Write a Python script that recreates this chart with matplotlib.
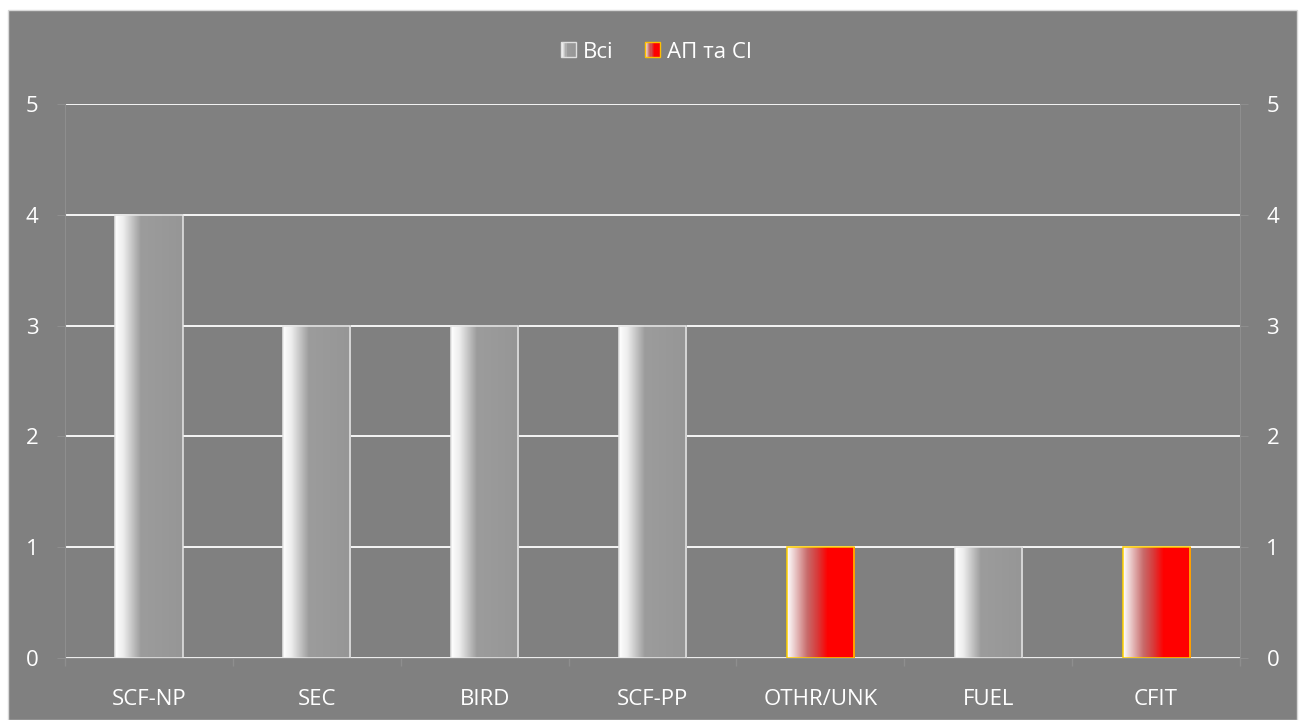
import numpy as np
import matplotlib.pyplot as plt
from matplotlib.colors import LinearSegmentedColormap
from matplotlib.patches import Rectangle
from matplotlib.legend_handler import HandlerBase

# event categories and counts
categories = ["SCF-NP", "SEC", "BIRD", "SCF-PP", "OTHR/UNK", "FUEL", "CFIT"]
counts = [4, 3, 3, 3, 1, 1, 1]
# which group each bar belongs to: 0 = all, 1 = accidents & serious incidents
group = [0, 0, 0, 0, 1, 0, 1]
legend_labels = ["Всі", "АП та СІ"]

bg = "#808080"
grey_cmap = LinearSegmentedColormap.from_list(
    "grey_fade", [(0, "#ffffff"), (0.12, "#eeeeee"), (0.38, "#9c9c9c"), (1, "#969696")])
red_cmap = LinearSegmentedColormap.from_list(
    "red_fade", [(0, "#ffffff"), (0.1, "#ecd0d0"), (0.3, "#c86a6a"), (0.45, "#d83a3a"),
                 (0.6, "#ff0000"), (1, "#ff0000")])
cmaps = [grey_cmap, red_cmap]
edges = ["#e6e6e6", "#ffd000"]

plt.rcParams["font.family"] = ["Open Sans", "DejaVu Sans"]

fig = plt.figure(figsize=(13.03, 7.2), dpi=100)
fig.patch.set_facecolor("white")
fig.patches.append(Rectangle((8 / 1303, 0), 1289 / 1303, 710 / 720,
                             transform=fig.transFigure, facecolor=bg,
                             edgecolor="#d8d8d8", lw=1, zorder=-10))

ax = fig.add_axes([65 / 1303, 62 / 720, 1175 / 1303, 554 / 720])
ax.set_facecolor(bg)

grad = np.linspace(0, 1, 256).reshape(1, -1)
width = 0.4
x = np.arange(len(categories))
for xi, v, g in zip(x, counts, group):
    x0, x1 = xi - width / 2, xi + width / 2
    ax.imshow(grad, cmap=cmaps[g], extent=(x0, x1, 0, v), aspect="auto",
              interpolation="bilinear", zorder=3)
    ax.add_patch(Rectangle((x0, 0), width, v, facecolor="none",
                           edgecolor=edges[g], lw=1.1, zorder=4))

ax.set_xlim(-0.5, len(categories) - 0.5)
ax.set_ylim(0, 5)
ax.set_yticks(range(6))
ax.grid(axis="y", color="white", lw=1.3, zorder=1)
ax.set_axisbelow(True)

ax.set_xticks(x)
ax.set_xticklabels(categories)
ax.set_xticks(np.arange(-0.5, len(categories)), minor=True)
ax.tick_params(axis="x", which="major", length=0, pad=22, colors="white", labelsize=16)
ax.tick_params(axis="x", which="minor", length=6, color="#8e8e8e", width=1)
ax.tick_params(axis="y", length=6, color="#8e8e8e", labelcolor="white", labelsize=16,
               pad=13, right=True, labelright=True)
for s in ax.spines.values():
    s.set_color("#8e8e8e")
ax.spines["top"].set_visible(False)


class GradientHandler(HandlerBase):
    def create_artists(self, legend, orig_handle, xd, yd, w, h, fontsize, trans):
        cm, ec = orig_handle
        side = h * 0.95
        x0 = xd + w - side
        y0 = yd + (h - side) / 2
        arts = []
        n = 14
        for i in range(n):
            arts.append(Rectangle((x0 + side * i / n, y0), side / n, side,
                                  facecolor=cm((i + 0.5) / n), edgecolor="none",
                                  transform=trans))
        arts.append(Rectangle((x0, y0), side, side, facecolor="none",
                              edgecolor=ec, lw=1, transform=trans))
        return arts


handles = [(grey_cmap, "#e0e0e0"), (red_cmap, "#ffc000")]
fig.legend(handles, legend_labels, handler_map={tuple: GradientHandler()},
           loc="center", bbox_to_anchor=(655 / 1303, 1 - 52 / 720), ncol=2,
           frameon=False, fontsize=16, labelcolor="white", handlelength=0.8,
           handletextpad=0.3, columnspacing=1.3)

fig.savefig("out.png", dpi=100, facecolor=fig.get_facecolor())
